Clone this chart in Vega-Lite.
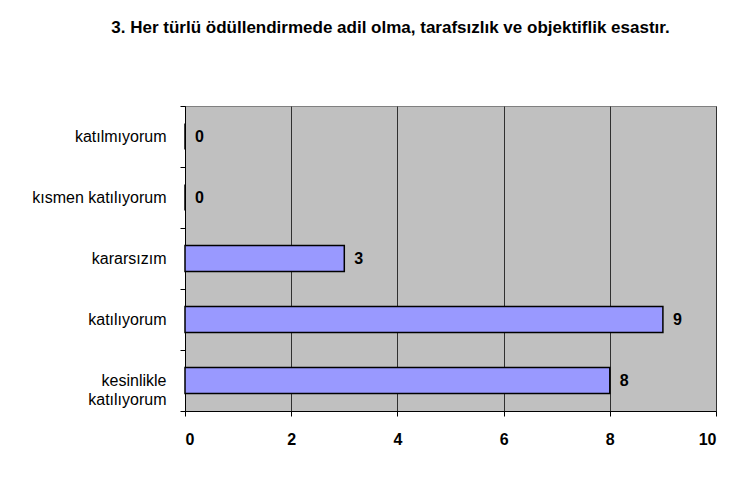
{
  "$schema": "https://vega.github.io/schema/vega-lite/v6.json",
  "autosize": "none",
  "padding": {"left": 185, "top": 106, "right": 23, "bottom": 67},
  "width": 531,
  "height": 305,
  "background": "white",
  "title": {
    "text": "3. Her türlü ödüllendirmede adil olma, tarafsızlık ve objektiflik esastır.",
    "font": "Liberation Sans",
    "fontSize": 17,
    "fontWeight": "bold",
    "color": "black",
    "anchor": "middle",
    "frame": "group",
    "dx": -60,
    "offset": 61
  },
  "config": {
    "view": {"fill": "#c0c0c0", "stroke": "#808080", "strokeWidth": 1}
  },
  "data": {
    "values": [
      {"kategori": "katılmıyorum", "deger": 0},
      {"kategori": "kısmen katılıyorum", "deger": 0},
      {"kategori": "kararsızım", "deger": 3},
      {"kategori": "katılıyorum", "deger": 9},
      {"kategori": "kesinlikle katılıyorum", "deger": 8}
    ]
  },
  "encoding": {
    "y": {
      "field": "kategori",
      "type": "nominal",
      "sort": null,
      "scale": {"paddingInner": 0, "paddingOuter": 0},
      "axis": {
        "title": null,
        "tickBand": "extent",
        "domainColor": "black",
        "tickColor": "black",
        "tickSize": 5,
        "labelPadding": 14,
        "labelFont": "Liberation Sans",
        "labelFontSize": 16,
        "labelColor": "black",
        "labelLineHeight": 19,
        "labelExpr": "datum.value == 'kesinlikle katılıyorum' ? ['kesinlikle', 'katılıyorum'] : datum.value",
        "grid": false
      }
    },
    "x": {
      "field": "deger",
      "type": "quantitative",
      "scale": {"domain": [0, 10], "nice": false},
      "axis": {
        "title": null,
        "values": [0, 2, 4, 6, 8, 10],
        "grid": true,
        "gridColor": "#303030",
        "gridOpacity": 1,
        "gridWidth": 1,
        "domainColor": "black",
        "tickColor": "black",
        "tickSize": 5,
        "labelPadding": 15,
        "labelFont": "Liberation Sans",
        "labelFontSize": 16,
        "labelFontWeight": "bold",
        "labelColor": "black"
      }
    }
  },
  "layer": [
    {
      "mark": {"type": "bar", "height": {"band": 0.43}, "fill": "#9999ff", "stroke": "black", "strokeWidth": 1.5}
    },
    {
      "mark": {"type": "text", "align": "left", "dx": 10, "font": "Liberation Sans", "fontSize": 16, "fontWeight": "bold", "color": "black"},
      "encoding": {"text": {"field": "deger", "type": "quantitative"}}
    }
  ]
}
